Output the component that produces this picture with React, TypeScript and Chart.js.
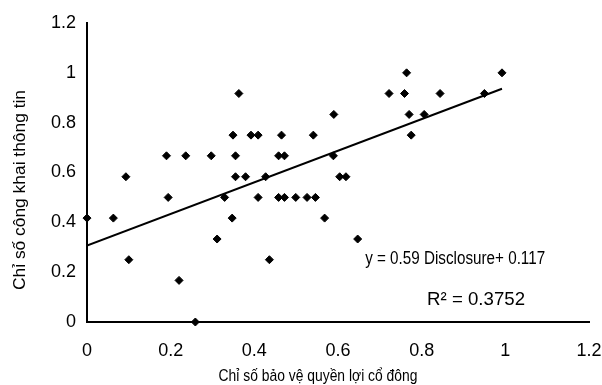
import { useEffect, useRef } from 'react';
import { Chart, registerables } from 'chart.js';

Chart.register(...registerables);

// Chỉ số bảo vệ quyền lợi cổ đông (x) / Chỉ số công khai thông tin (y)
const PROTECTION = [
  0.764, 0.992,
  0.363, 0.722, 0.759, 0.844, 0.95,
  0.59, 0.77, 0.806,
  0.349, 0.392, 0.409, 0.465, 0.541, 0.775,
  0.19, 0.236, 0.297, 0.355, 0.458, 0.472, 0.589,
  0.093, 0.355, 0.379, 0.427, 0.604, 0.619,
  0.194, 0.329, 0.409, 0.458, 0.472, 0.499, 0.526, 0.546,
  0.0, 0.063, 0.347, 0.568,
  0.311, 0.647,
  0.1, 0.436,
  0.22,
  0.259,
];
const DISCLOSURE = [
  1.0, 1.0,
  0.917, 0.917, 0.917, 0.917, 0.917,
  0.833, 0.833, 0.833,
  0.75, 0.75, 0.75, 0.75, 0.75, 0.75,
  0.667, 0.667, 0.667, 0.667, 0.667, 0.667, 0.667,
  0.583, 0.583, 0.583, 0.583, 0.583, 0.583,
  0.5, 0.5, 0.5, 0.5, 0.5, 0.5, 0.5, 0.5,
  0.417, 0.417, 0.417, 0.417,
  0.333, 0.333,
  0.25, 0.25,
  0.167,
  0.0,
];

const X_TICKS = [0, 0.2, 0.4, 0.6, 0.8, 1, 1.2];
const Y_TICKS = [0, 0.2, 0.4, 0.6, 0.8, 1, 1.2];

// trend line as drawn in the picture
const TREND_INTERCEPT = 0.307;
const TREND_SLOPE = 0.634;
const TREND_START = 0;
const TREND_END = 0.992;

const X_TITLE = 'Chỉ số bảo vệ quyền lợi cổ đông';
const Y_TITLE = 'Chỉ số công khai thông tin';
const EQUATION = 'y = 0.59 Disclosure+ 0.117';
const R2_LABEL = 'R² = 0.3752';

const FONT = "'Liberation Sans', Arial, Helvetica, sans-serif";

function drawFitted(
  ctx: CanvasRenderingContext2D,
  text: string,
  cx: number,
  cy: number,
  size: number,
  width: number,
  rot: number
) {
  ctx.save();
  ctx.translate(cx, cy);
  ctx.rotate(rot);
  ctx.font = `${size}px ${FONT}`;
  const w = ctx.measureText(text).width || 1;
  ctx.scale(width / w, 1);
  ctx.fillStyle = '#000';
  ctx.textAlign = 'center';
  ctx.textBaseline = 'middle';
  ctx.fillText(text, 0, 0);
  ctx.restore();
}

const textPlugin = {
  id: 'texts',
  afterDraw(chart: any) {
    const ctx = chart.ctx as CanvasRenderingContext2D;
    const xs = chart.scales.x;
    const ys = chart.scales.y;
    drawFitted(ctx, X_TITLE, 318, 376, 17, 199, 0);
    drawFitted(ctx, Y_TITLE, 20, 190, 17, 200, -Math.PI / 2);
    drawFitted(ctx, EQUATION, xs.getPixelForValue(0.88), ys.getPixelForValue(0.252), 18, 180, 0);
    drawFitted(ctx, R2_LABEL, xs.getPixelForValue(0.93), ys.getPixelForValue(0.088), 19, 98, 0);
  },
};

export default function App() {
  const ref = useRef<HTMLCanvasElement | null>(null);

  useEffect(() => {
    if (!ref.current) return;
    const points = PROTECTION.map((x, i) => ({ x, y: DISCLOSURE[i] }));
    const trend = [TREND_START, TREND_END].map((x) => ({ x, y: TREND_INTERCEPT + TREND_SLOPE * x }));
    const chart = new Chart(ref.current, {
      type: 'scatter',
      data: {
        datasets: [
          {
            type: 'line',
            label: 'trend',
            data: trend,
            borderColor: '#000',
            borderWidth: 2,
            pointRadius: 0,
            fill: false,
            order: 2,
          } as any,
          {
            label: 'data',
            data: points,
            pointStyle: 'rectRot',
            pointRadius: 4,
            pointBackgroundColor: '#000',
            pointBorderColor: '#000',
            pointBorderWidth: 1,
            clip: false,
            order: 1,
          } as any,
        ],
      },
      options: {
        animation: false,
        responsive: false,
        devicePixelRatio: 1,
        layout: { padding: { top: 23, right: 13, left: 0, bottom: 0 } },
        plugins: { legend: { display: false }, tooltip: { enabled: false } },
        scales: {
          x: {
            type: 'linear',
            position: 'bottom',
            min: 0,
            max: 1.2,
            afterBuildTicks: (s: any) => {
              s.ticks = X_TICKS.map((v) => ({ value: v }));
            },
            afterFit: (s: any) => {
              s.height = 63;
              s.paddingLeft = 0;
              s.paddingRight = 0;
            },
            grid: { display: false, drawTicks: false },
            border: { display: true, color: '#000', width: 2 },
            ticks: {
              color: '#000',
              padding: 18,
              font: { family: FONT, size: 18 },
              callback: (v: any) => String(v),
            },
          },
          y: {
            type: 'linear',
            min: 0,
            max: 1.2,
            afterBuildTicks: (s: any) => {
              s.ticks = Y_TICKS.map((v) => ({ value: v }));
            },
            afterFit: (s: any) => {
              s.width = 87;
              s.paddingTop = 0;
              s.paddingBottom = 0;
            },
            grid: { display: false, drawTicks: false },
            border: { display: true, color: '#000', width: 2 },
            ticks: {
              color: '#000',
              padding: 11,
              font: { family: FONT, size: 18 },
              callback: (v: any) => String(v),
            },
          },
        },
      },
      plugins: [textPlugin],
    });
    return () => chart.destroy();
  }, []);

  return (
    <div style={{ position: 'absolute', left: 0, top: 0, width: 602, height: 385, background: '#fff' }}>
      <canvas ref={ref} width={602} height={385} />
    </div>
  );
}
